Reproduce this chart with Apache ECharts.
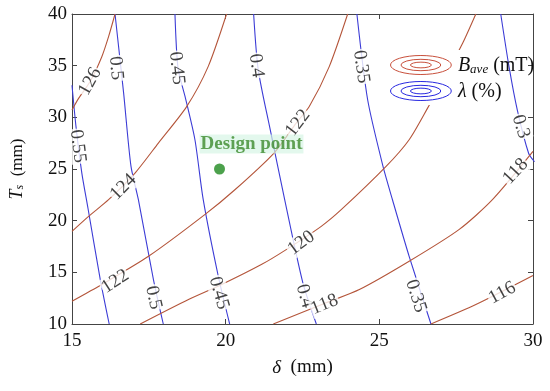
<!DOCTYPE html>
<html><head><meta charset="utf-8">
<script src="https://cdn.jsdelivr.net/npm/echarts@6/dist/echarts.min.js"></script>
<style>html,body{margin:0;padding:0;background:#fff}#c{width:550px;height:391px}</style>
</head><body><div id="c"></div>
<script>
// ---- axes ----
const xRange = [15, 30];
const yRange = [10, 40];
const xStep = 5;
const yStep = 5;

// ---- blue contours: lambda (%) ----
const lam055 = [[15.0,33.1],[15.13,29.1],[15.32,24.6],[15.52,21.2],[15.92,14.3],[16.21,10]];
const lam050 = [[16.40,40],[16.68,32.34],[16.92,25.25],[17.16,22.03],[17.65,14.3],[17.97,10]];
const lam045 = [[18.35,40],[18.45,34.75],[18.68,32.0],[19.0,27.83],[19.27,22.03],[19.76,14.62],[20.13,10]];
const lam040 = [[20.91,40],[21.06,34.6],[21.45,28.8],[21.92,22.03],[22.51,14.0],[22.95,10]];
const lam035 = [[24.27,40],[24.62,31.7],[25.12,25.25],[25.43,22.0],[25.97,16.55],[26.68,10]];
const lam030 = [[28.95,40],[29.22,34.9],[29.49,30.7],[29.86,26.5],[30.05,25.7]];

// ---- red contours: B_ave (mT) ----
const b126 = [[15.0,30.72],[15.22,31.86],[15.59,33.46],[15.97,35.87],[16.19,37.81],[16.40,40]];
const b124 = [[15.0,18.97],[15.54,20.42],[16.19,22.03],[17.05,24.61],[17.81,27.51],[18.73,31.04],[19.43,34.91],[20.03,40]];
const b122 = [[15.0,12.2],[15.97,13.82],[17.49,16.55],[19.32,20.58],[20.30,22.99],[21.58,26.57],[22.30,29.47],[22.72,31.04],[23.37,34.91],[23.97,40]];
const b120 = [[17.22,10],[18.79,12.37],[19.87,13.82],[21.16,15.75],[21.97,17.2],[23.11,19.45],[23.76,21.06],[25.22,25.25],[25.97,27.83],[26.57,30.89],[27.16,34.1],[27.71,37.17],[28.14,40]];
const b118 = [[21.55,10],[23.27,12.05],[24.35,13.33],[25.97,16.07],[27.59,19.13],[28.68,22.03],[30.0,26.7]];
const b116 = [[26.68,10],[28.14,11.88],[30.0,14.69]];

// ---- contour labels [text, delta, Ts] ----
const lamLabels = [['0.55',15.19,27.2],['0.5',16.43,34.75],['0.5',17.65,12.55],['0.45',18.41,34.75],['0.45',19.78,13.0],['0.4',21.0,35.0],['0.4',22.57,12.7],['0.35',24.41,34.9],['0.35',26.19,12.7],['0.3',29.6,29.1]];
const bLabels = [['126',15.59,33.46],['124',16.67,23.24],['122',16.41,14.11],['122',22.35,29.44],['120',22.46,17.84],['118',23.22,11.88],['118',29.43,24.77],['116',29.0,13.0]];

// design point
const designPoint = [19.8, 25];
const designText = 'Design point';

// ---- styles ----
const lamRot = [-83,-85,-77,-84,-74,-82,-74,-82,-72,-73];
const bRot = [61,45,33,53,36,22,47,28];
const RED = '#b4553a', BLUE = '#3c3cd6';
const SERIF = '"Liberation Serif","Times New Roman",serif';

const chart = echarts.init(document.getElementById('c'));

function contour(name, data, color){
  return {type:'line', name, data, symbol:'none', showSymbol:false, smooth:0.25, silent:true,
    lineStyle:{color, width:1.1}, itemStyle:{color}, z:2};
}
function labelSeries(list, rots){
  return {type:'scatter', silent:true, symbolSize:1, itemStyle:{color:'rgba(0,0,0,0)'}, z:5,
    label:{show:true, position:'inside', color:'#111', fontFamily:SERIF, fontSize:19,
      backgroundColor:'#fff', padding:[0,1]},
    data: list.map((d,i)=>({value:[d[1],d[2]], label:{formatter:d[0], rotate:rots[i]}}))};
}

const series = [];
[lam055,lam050,lam045,lam040,lam035,lam030].forEach(d=>series.push(contour('lam', d, BLUE)));
[b126,b124,b122,b120,b118,b116].forEach(d=>series.push(contour('B', d, RED)));
series.push(labelSeries(lamLabels, lamRot));
series.push(labelSeries(bLabels, bRot));
series.push({type:'scatter', silent:true, data:[designPoint], symbolSize:11, itemStyle:{color:'#1f8a1f'}, z:6,
  label:{show:true, formatter:designText, position:'top', distance:10, offset:[32,0],
    color:'#3b8a2b', fontWeight:'bold', fontFamily:SERIF, fontSize:19,
    backgroundColor:'rgba(214,245,228,0.85)', padding:[0,1]}});

const ellipses = 'path://M0,10A32,10,0,1,0,64,10A32,10,0,1,0,0,10ZM11,10A21,6,0,1,0,53,10A21,6,0,1,0,11,10ZM21,10A11,3,0,1,0,43,10A11,3,0,1,0,21,10Z';

const axisCommon = {
  type:'value', splitLine:{show:false},
  axisLine:{show:true, lineStyle:{color:'#444', width:1}},
  axisTick:{show:true, inside:true, length:5, lineStyle:{color:'#444'}},
};

chart.setOption({
  animation:false,
  backgroundColor:'#fff',
  grid:{left:70, right:17, top:14, bottom:67},
  graphic:[{type:'rect', shape:{x:388, y:50, width:72, height:55}, style:{fill:'#fff'}, z:3, silent:true}],
  legend:{
    orient:'vertical', left:390, top:55, padding:0, itemGap:5, itemWidth:64, itemHeight:19,
    selectedMode:false,
    data:[
      {name:'B', icon:ellipses, itemStyle:{color:'rgba(0,0,0,0)', borderColor:'#c8503c', borderWidth:1}},
      {name:'lam', icon:ellipses, itemStyle:{color:'rgba(0,0,0,0)', borderColor:'#2828e0', borderWidth:1}}
    ],
    formatter: n => n==='B' ? '{i|B}{s|ave}{p| (mT)}' : '{i|λ}{p| (%)}',
    textStyle:{fontFamily:SERIF, fontSize:20, color:'#111',
      rich:{
        i:{fontFamily:SERIF, fontStyle:'italic', fontSize:20, color:'#111', verticalAlign:'bottom', lineHeight:22},
        s:{fontFamily:SERIF, fontStyle:'italic', fontSize:13, color:'#111', verticalAlign:'bottom', lineHeight:16},
        p:{fontFamily:SERIF, fontSize:20, color:'#111', verticalAlign:'bottom', lineHeight:22}
      }}
  },
  xAxis:[
    Object.assign({}, axisCommon, {min:xRange[0], max:xRange[1], interval:xStep, position:'bottom',
      axisLabel:{fontFamily:SERIF, fontSize:19, color:'#111', margin:8},
      name:'{i|δ}{p|  (mm)}', nameLocation:'middle', nameGap:34,
      nameTextStyle:{rich:{i:{fontFamily:SERIF, fontStyle:'italic', fontSize:19, color:'#111'}, p:{fontFamily:SERIF, fontSize:19, color:'#111'}}}}),
    Object.assign({}, axisCommon, {min:xRange[0], max:xRange[1], interval:xStep, position:'top', axisLabel:{show:false}})
  ],
  yAxis:[
    Object.assign({}, axisCommon, {min:yRange[0], max:yRange[1], interval:yStep, position:'left',
      axisLabel:{fontFamily:SERIF, fontSize:19, color:'#111', margin:5},
      name:'{i|T}{s|s}{p|  (mm)}', nameLocation:'middle', nameGap:46,
      nameTextStyle:{rich:{i:{fontFamily:SERIF, fontStyle:'italic', fontSize:18, color:'#111', verticalAlign:'bottom', lineHeight:20}, s:{fontFamily:SERIF, fontStyle:'italic', fontSize:12, color:'#111', verticalAlign:'bottom', lineHeight:15}, p:{fontFamily:SERIF, fontSize:17, color:'#111', verticalAlign:'bottom', lineHeight:20}}}}),
    Object.assign({}, axisCommon, {min:yRange[0], max:yRange[1], interval:yStep, position:'right', axisLabel:{show:false}})
  ],
  series
});
</script></body></html>
